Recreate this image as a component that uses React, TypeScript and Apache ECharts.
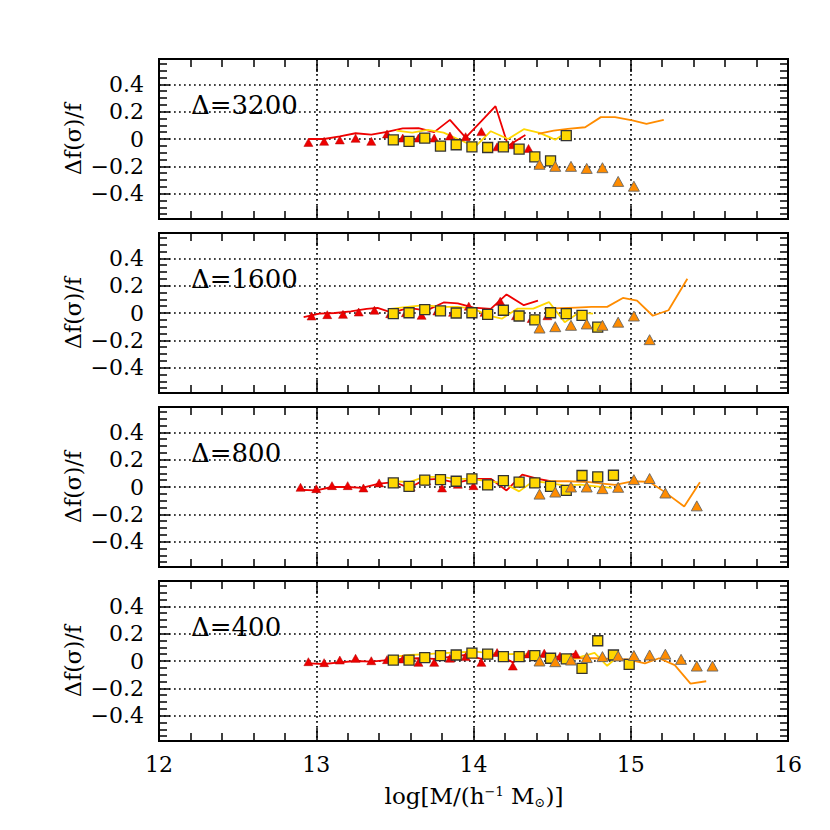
import React, { useEffect, useRef } from "react";
import * as echarts from "echarts";

// ---------- data ----------
const panelLabels = ["Δ=3200", "Δ=1600", "Δ=800", "Δ=400"];

// Δ=3200
const red3200X = [12.95, 13.05, 13.15, 13.25, 13.35, 13.45, 13.55, 13.65, 13.75, 13.85, 13.95, 14.05, 14.15, 14.25, 14.35];
const red3200Y = [-0.025, -0.017, -0.007, 0.005, -0.017, 0.037, 0.007, 0.007, 0.007, 0.022, 0.017, 0.054, -0.057, -0.042, -0.069];
const redLine3200X = [12.95, 13.05, 13.15, 13.25, 13.35, 13.45, 13.55, 13.65, 13.75, 13.85, 13.95, 14.05, 14.14, 14.22, 14.33];
const redLine3200Y = [0.0, 0.0, 0.02, 0.042, 0.032, 0.052, 0.077, 0.08, 0.05, 0.14, 0.01, 0.13, 0.24, -0.05, 0.03];
const sq3200X = [13.49, 13.59, 13.69, 13.79, 13.89, 13.99, 14.09, 14.19, 14.29, 14.39, 14.49, 14.59];
const sq3200Y = [-0.007, -0.017, 0.007, -0.052, -0.042, -0.057, -0.062, -0.057, -0.074, -0.131, -0.16, 0.025];
const yelLine3200X = [13.51, 13.61, 13.71, 13.81, 13.9, 14.01, 14.11, 14.22, 14.32, 14.42, 14.52, 14.58];
const yelLine3200Y = [0.062, 0.047, 0.067, 0.047, 0.0, -0.057, 0.057, 0.0, 0.072, 0.045, -0.005, 0.04];
const or3200X = [14.42, 14.52, 14.62, 14.72, 14.82, 14.92, 15.02];
const or3200Y = [-0.185, -0.2, -0.2, -0.215, -0.21, -0.31, -0.345];
const orLine3200X = [14.41, 14.51, 14.6, 14.71, 14.81, 14.9, 15.01, 15.1, 15.21];
const orLine3200Y = [0.037, 0.062, 0.074, 0.086, 0.16, 0.16, 0.136, 0.11, 0.14];

// Δ=1600
const red1600X = [12.97, 13.07, 13.17, 13.27, 13.37, 13.47, 13.57, 13.67, 13.77, 13.87, 13.97, 14.07, 14.17, 14.27, 14.37, 14.47];
const red1600Y = [-0.022, -0.012, -0.01, 0.007, 0.02, -0.005, 0.002, -0.017, 0.015, 0.005, 0.05, 0.005, 0.086, -0.02, -0.04, -0.02];
const redLine1600X = [12.92, 13.02, 13.12, 13.22, 13.32, 13.39, 13.48, 13.59, 13.7, 13.81, 13.9, 14.0, 14.11, 14.21, 14.32, 14.41];
const redLine1600Y = [-0.03, -0.005, 0.0, 0.012, 0.03, 0.037, 0.002, 0.037, 0.017, 0.077, 0.07, 0.04, 0.03, 0.136, 0.057, 0.09];
const sq1600X = [13.49, 13.59, 13.69, 13.79, 13.89, 13.99, 14.09, 14.19, 14.29, 14.39, 14.49, 14.59, 14.69, 14.79];
const sq1600Y = [-0.005, 0.002, 0.025, 0.015, 0.0, 0.002, -0.01, 0.02, -0.022, -0.05, 0.002, -0.005, -0.017, -0.104];
const yelLine1600X = [13.47, 13.58, 13.69, 13.79, 13.9, 14.0, 14.09, 14.18, 14.28, 14.38, 14.48, 14.58, 14.67, 14.76];
const yelLine1600Y = [0.03, 0.045, 0.057, 0.045, 0.045, 0.032, -0.017, -0.042, 0.032, 0.032, 0.08, -0.067, 0.002, -0.005];
const or1600X = [14.42, 14.52, 14.62, 14.72, 14.82, 14.92, 15.02, 15.12];
const or1600Y = [-0.11, -0.1, -0.09, -0.08, -0.09, -0.067, -0.022, -0.195];
const orLine1600X = [14.45, 14.55, 14.65, 14.75, 14.85, 14.95, 15.04, 15.14, 15.24, 15.36];
const orLine1600Y = [0.03, 0.035, 0.04, 0.045, 0.045, 0.11, 0.09, -0.02, 0.02, 0.25];

// Δ=800
const red800X = [12.9, 13.0, 13.1, 13.2, 13.3, 13.4, 13.5, 13.6, 13.7, 13.8, 13.9, 14.0];
const red800Y = [-0.002, -0.012, 0.01, 0.01, -0.007, 0.03, 0.03, 0.0, 0.045, -0.007, 0.02, 0.01];
const redLine800X = [12.88, 13.0, 13.1, 13.2, 13.29, 13.4, 13.5, 13.59, 13.69, 13.78, 13.89, 14.0, 14.11, 14.21, 14.31, 14.41, 14.49];
const redLine800Y = [-0.02, -0.025, 0.0, 0.0, -0.007, 0.025, 0.035, -0.007, 0.054, 0.06, 0.03, 0.06, 0.06, -0.025, 0.09, 0.06, 0.042];
const sq800X = [13.49, 13.59, 13.69, 13.79, 13.89, 13.99, 14.09, 14.19, 14.29, 14.39, 14.49, 14.59, 14.69, 14.79, 14.89];
const sq800Y = [0.03, 0.005, 0.05, 0.054, 0.042, 0.06, 0.015, 0.047, 0.035, 0.03, 0.005, -0.025, 0.084, 0.074, 0.086];
const yelLine800X = [13.5, 13.59, 13.69, 13.79, 13.89, 13.99, 14.09, 14.19, 14.29, 14.38, 14.48, 14.58, 14.68, 14.78, 14.88];
const yelLine800Y = [0.042, 0.035, 0.074, 0.074, 0.06, 0.06, 0.042, 0.03, -0.032, 0.042, 0.03, 0.01, 0.017, 0.005, -0.007];
const or800X = [14.42, 14.52, 14.62, 14.72, 14.82, 14.92, 15.02, 15.12, 15.22, 15.42];
const or800Y = [-0.052, -0.037, 0.0, 0.0, -0.012, -0.002, 0.054, 0.062, -0.044, -0.138];
const orLine800X = [14.47, 14.6, 14.74, 14.82, 14.9, 15.01, 15.12, 15.21, 15.34, 15.44];
const orLine800Y = [0.042, 0.042, 0.035, 0.025, 0.015, 0.042, 0.037, -0.032, -0.143, 0.035];

// Δ=400
const red400X = [12.95, 13.05, 13.15, 13.25, 13.35, 13.45, 13.55, 13.65, 13.75, 13.85, 13.95, 14.05, 14.15, 14.25, 14.35, 14.45, 14.55, 14.65];
const red400Y = [-0.005, -0.012, 0.007, 0.02, 0.002, 0.01, 0.015, -0.01, -0.01, 0.02, 0.032, -0.01, 0.062, -0.037, 0.052, 0.057, 0.035, 0.052];
const redLine400X = [12.95, 13.05, 13.15, 13.25, 13.35, 13.45, 13.55, 13.65, 13.75, 13.85, 13.95, 14.05, 14.14, 14.25, 14.33, 14.44, 14.55, 14.64];
const redLine400Y = [-0.017, -0.022, -0.01, 0.0, -0.005, 0.007, 0.015, 0.02, 0.015, 0.03, 0.044, 0.015, 0.057, -0.01, 0.044, 0.032, 0.032, 0.052];
const sq400X = [13.49, 13.59, 13.69, 13.79, 13.89, 13.99, 14.09, 14.19, 14.29, 14.39, 14.49, 14.59, 14.69, 14.79, 14.89, 14.99];
const sq400Y = [0.007, 0.007, 0.025, 0.04, 0.044, 0.057, 0.05, 0.032, 0.032, 0.04, 0.02, 0.015, -0.054, 0.148, 0.044, -0.025];
const yelLine400X = [13.5, 13.6, 13.7, 13.8, 13.9, 14.0, 14.1, 14.2, 14.3, 14.4, 14.5, 14.6, 14.68, 14.77, 14.85, 14.93];
const yelLine400Y = [0.032, 0.044, 0.05, 0.057, 0.062, 0.07, 0.057, 0.05, 0.052, 0.044, 0.025, 0.0, 0.03, 0.06, -0.035, 0.044];
const or400X = [14.42, 14.52, 14.62, 14.72, 14.82, 14.92, 15.02, 15.12, 15.22, 15.32, 15.42, 15.52];
const or400Y = [0.0, -0.005, 0.007, 0.025, 0.032, 0.037, 0.04, 0.044, 0.05, 0.012, -0.037, -0.037];
const orLine400X = [14.44, 14.55, 14.66, 14.77, 14.88, 14.98, 15.09, 15.18, 15.28, 15.38, 15.48];
const orLine400Y = [0.032, 0.025, 0.02, 0.02, 0.015, 0.012, -0.017, 0.02, -0.03, -0.165, -0.148];

const xTickLabels = ["12", "13", "14", "15", "16"];
const yTickLabels = ["−0.4", "−0.2", "0", "0.2", "0.4"];

const panels = [
  { red: [red3200X, red3200Y], redLine: [redLine3200X, redLine3200Y], sq: [sq3200X, sq3200Y], yelLine: [yelLine3200X, yelLine3200Y], or: [or3200X, or3200Y], orLine: [orLine3200X, orLine3200Y] },
  { red: [red1600X, red1600Y], redLine: [redLine1600X, redLine1600Y], sq: [sq1600X, sq1600Y], yelLine: [yelLine1600X, yelLine1600Y], or: [or1600X, or1600Y], orLine: [orLine1600X, orLine1600Y] },
  { red: [red800X, red800Y], redLine: [redLine800X, redLine800Y], sq: [sq800X, sq800Y], yelLine: [yelLine800X, yelLine800Y], or: [or800X, or800Y], orLine: [orLine800X, orLine800Y] },
  { red: [red400X, red400Y], redLine: [redLine400X, redLine400Y], sq: [sq400X, sq400Y], yelLine: [yelLine400X, yelLine400Y], or: [or400X, or400Y], orLine: [orLine400X, orLine400Y] },
];

const zip = (xs: number[], ys: number[]) => xs.map((x, i) => [x, ys[i]]);

const RED = "#ee0000";
const YEL = "#ffd700";
const ORG = "#ff8c00";
const FONT = "DejaVu Serif";

export default function App() {
  const ref = useRef<HTMLDivElement>(null);
  useEffect(() => {
    if (!ref.current) return;
    const chart = echarts.init(ref.current, null, { renderer: "svg" });
    const LEFT = 159;
    const WIDTH = 629;
    const TOP0 = 59;
    const STEP = 174;
    const H = 160;
    const YR = 0.585;

    const grids: any[] = [];
    const xAxes: any[] = [];
    const yAxes: any[] = [];
    const series: any[] = [];
    const graphics: any[] = [];

    panels.forEach((p, i) => {
      const top = TOP0 + STEP * i;
      grids.push({ left: LEFT, width: WIDTH, top, height: H, show: true, borderColor: "#000", borderWidth: 2, backgroundColor: "transparent" });
      const xBase = {
        type: "value", gridIndex: i, min: 12, max: 16, interval: 1,
        axisLine: { show: false, onZero: false },
        axisTick: { show: true, inside: true, length: 13, lineStyle: { color: "#000", width: 1.5 } },
        minorTick: { show: true, splitNumber: 5, length: 8, lineStyle: { color: "#000", width: 1.5 } },
      };
      xAxes.push({
        ...xBase, position: "bottom",
        splitLine: { show: true, lineStyle: { color: "#000", width: 1.7, type: [1.7, 3.3] } },
        axisLabel: {
          show: i === panels.length - 1, margin: 12, fontFamily: FONT, fontSize: 22, color: "#000",
          formatter: (v: number) => xTickLabels[Math.round(v) - 12] ?? "",
        },
      });
      xAxes.push({ ...xBase, position: "top", splitLine: { show: false }, axisLabel: { show: false } });
      const yBase = {
        type: "value", gridIndex: i, min: -YR, max: YR, splitNumber: 6,
        axisLine: { show: false, onZero: false },
        axisTick: { show: true, inside: true, length: 11, lineStyle: { color: "#000", width: 1.5 } },
        minorTick: { show: true, splitNumber: 4, length: 8, lineStyle: { color: "#000", width: 1.5 } },
      };
      yAxes.push({
        ...yBase, position: "left",
        splitLine: { show: true, lineStyle: { color: "#000", width: 1.7, type: [1.7, 3.3] } },
        axisLabel: {
          show: true, margin: 15, fontFamily: FONT, fontSize: 22, color: "#000",
          formatter: (v: number) => {
            const r = Math.round(v * 10) / 10;
            if (Math.abs(v) > 0.5) return "";
            const idx = Math.round((r + 0.4) / 0.2);
            return yTickLabels[idx] ?? "";
          },
        },
      });
      yAxes.push({ ...yBase, position: "right", splitLine: { show: false }, axisLabel: { show: false } });

      const xi = 2 * i;
      const yi = 2 * i;
      const line = (d: number[][], color: string) => ({
        type: "line", xAxisIndex: xi, yAxisIndex: yi, data: d, showSymbol: false, symbol: "none",
        lineStyle: { color, width: 1.8 }, silent: true, z: 2,
      });
      series.push(line(zip(p.redLine[0], p.redLine[1]), RED));
      series.push(line(zip(p.yelLine[0], p.yelLine[1]), YEL));
      series.push(line(zip(p.orLine[0], p.orLine[1]), ORG));
      series.push({
        type: "scatter", xAxisIndex: xi, yAxisIndex: yi, data: zip(p.red[0], p.red[1]),
        symbol: "triangle", symbolSize: [9, 8], itemStyle: { color: RED, borderColor: "#b00000", borderWidth: 0.5, opacity: 1 }, z: 3,
      });
      series.push({
        type: "scatter", xAxisIndex: xi, yAxisIndex: yi, data: zip(p.sq[0], p.sq[1]),
        symbol: "rect", symbolSize: 10, itemStyle: { color: YEL, borderColor: "#333", borderWidth: 1.3, opacity: 1 }, z: 4,
      });
      series.push({
        type: "scatter", xAxisIndex: xi, yAxisIndex: yi, data: zip(p.or[0], p.or[1]),
        symbol: "triangle", symbolSize: [11, 10], itemStyle: { color: ORG, borderColor: "#666", borderWidth: 0.9, opacity: 1 }, z: 5,
      });

      graphics.push({
        type: "text", x: 191, y: top + 46,
        style: { text: panelLabels[i], fontFamily: FONT, fontSize: 26, fill: "#000", verticalAlign: "middle" },
      });
      graphics.push({
        type: "text", x: 73, y: top + H / 2, rotation: Math.PI / 2,
        style: { text: "Δf(σ)/f", fontFamily: FONT, fontSize: 22, fill: "#000", align: "center", verticalAlign: "middle" },
      });
    });

    graphics.push({
      type: "text", x: 474, y: 796,
      style: {
        text: "{a|log[M/(h}{s|−1}{a| M}{b|⊙}{a|)]}",
        align: "center", verticalAlign: "middle",
        rich: {
          a: { fontFamily: FONT, fontSize: 23, fill: "#000", lineHeight: 28 },
          s: { fontFamily: FONT, fontSize: 13, fill: "#000", lineHeight: 28, padding: [0, 0, 10, 0] },
          b: { fontFamily: FONT, fontSize: 13, fill: "#000", lineHeight: 28, padding: [12, 0, 0, 0] },
        },
      },
    });

    chart.setOption({
      animation: false,
      backgroundColor: "#fff",
      grid: grids,
      xAxis: xAxes,
      yAxis: yAxes,
      series,
      graphic: graphics,
    });
    return () => chart.dispose();
  }, []);
  return <div ref={ref} style={{ position: "fixed", left: 0, top: 0, width: 830, height: 830 }} />;
}
